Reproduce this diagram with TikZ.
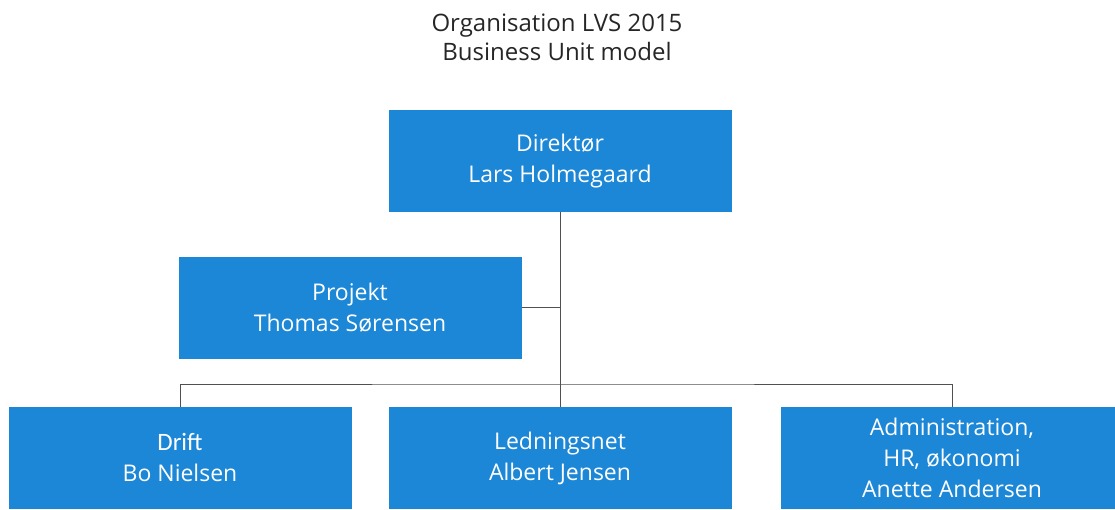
\documentclass[tikz,border=0pt]{standalone}
\usepackage{fontspec}
\setmainfont{Open Sans}
\newfontfamily\driftfont{Carlito}
\definecolor{unitblue}{RGB}{27,135,214}
\definecolor{linegrey}{RGB}{80,80,80}
\tikzset{
  unit/.style={fill=unitblue, text=white, minimum width=343pt, minimum height=102pt,
    inner sep=0pt, align=center, font=\fontsize{23}{31}\selectfont},
  link/.style={draw=linegrey, line width=1pt}
}
\begin{document}
\begin{tikzpicture}[x=1pt,y=-1pt]
\useasboundingbox (0,0) rectangle (1115,509);
%
\node (title) at (557,37) [align=center, text=black!85, font=\fontsize{24}{29}\selectfont]
  {Organisation LVS 2015\\Business Unit model};
%
\node[unit] (dir) at (560,161) {Direktør\\Lars Holmegaard};
\node[unit] (proj) at (350,307.5) {Projekt\\Thomas Sørensen};
%
\node[unit] (drift) at (180,458) {\driftfont\fontsize{25}{30}\selectfont Drift\\Bo Nielsen};
\node[unit] (led) at (560,458) {Ledningsnet\\Albert Jensen};
\node[unit] (admin) at (952,458) {Administration,\\HR, økonomi\\Anette Andersen};
%
\coordinate (bar) at (560,384);
\draw[link] (dir.south) -- (led.north);
\draw[link] (proj.east) -- (proj.east -| dir.south);
\draw[link] (drift.north) |- (bar) -| (admin.north);
\end{tikzpicture}
\end{document}
